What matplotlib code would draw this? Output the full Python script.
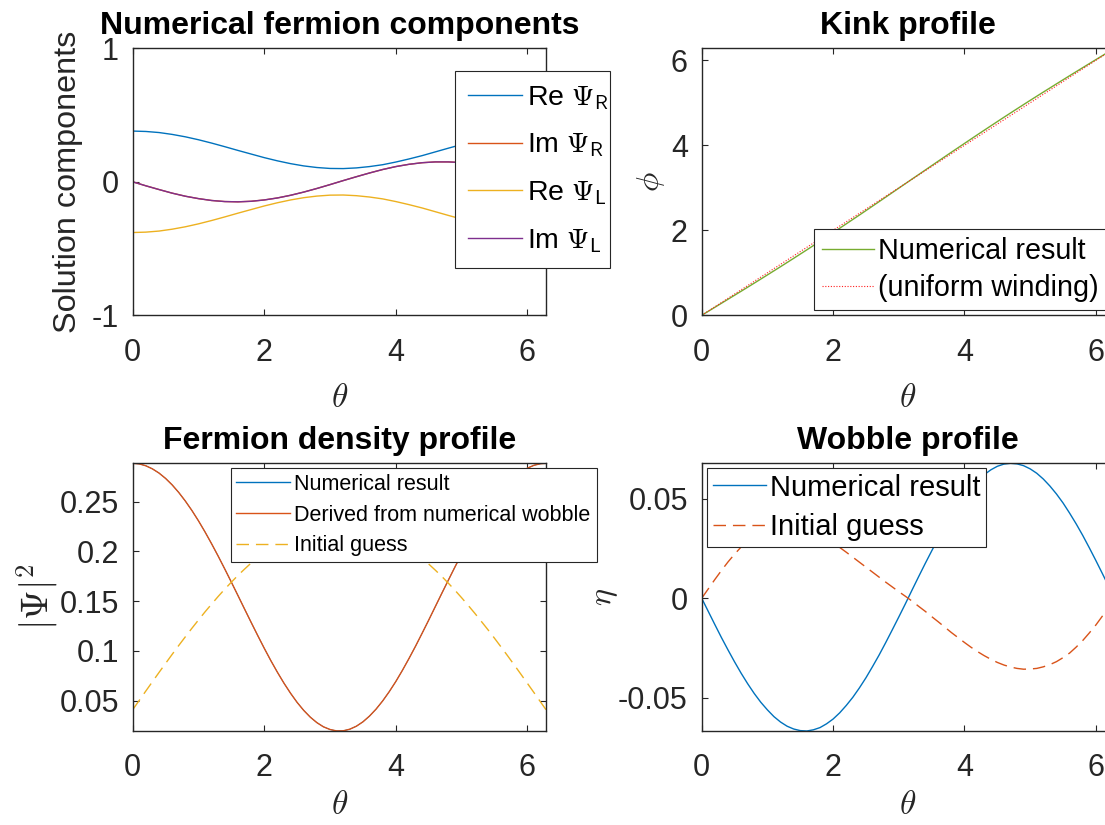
import matplotlib
matplotlib.use("Agg")
import matplotlib.pyplot as plt

plt.rcParams["font.family"] = ["Liberation Sans", "DejaVu Sans"]
plt.rcParams["mathtext.fontset"] = "cm"
plt.rcParams["axes.unicode_minus"] = False

# ---- data ----
# coarse grid for the gently varying curves (components, kink)
THETA = [0.0, 0.2, 0.4, 0.6, 0.8, 1.0, 1.2, 1.4, 1.6, 1.8, 2.0, 2.2, 2.4, 2.6, 2.8, 3.0,
         3.2, 3.4, 3.6, 3.8, 4.0, 4.2, 4.4, 4.6, 4.8, 5.0, 5.2, 5.4, 5.6, 5.8, 6.0, 6.2, 6.283]

RE_PSI_R = [0.380, 0.377, 0.369, 0.355, 0.337, 0.315, 0.290, 0.263, 0.235, 0.208, 0.181,
            0.157, 0.136, 0.119, 0.107, 0.100, 0.099, 0.104, 0.114, 0.128, 0.148, 0.171,
            0.196, 0.224, 0.252, 0.279, 0.305, 0.329, 0.348, 0.364, 0.374, 0.379, 0.380]
IM_PSI_R = [0.0, -0.030, -0.058, -0.085, -0.108, -0.126, -0.140, -0.148, -0.150, -0.146,
            -0.136, -0.121, -0.101, -0.077, -0.050, -0.021, 0.009, 0.038, 0.066, 0.092,
            0.114, 0.131, 0.143, 0.149, 0.149, 0.144, 0.133, 0.116, 0.095, 0.070, 0.042,
            0.013, 0.0]
RE_PSI_L = [-0.380, -0.377, -0.369, -0.355, -0.337, -0.315, -0.290, -0.263, -0.235, -0.208,
            -0.181, -0.157, -0.136, -0.119, -0.107, -0.100, -0.099, -0.104, -0.114, -0.128,
            -0.148, -0.171, -0.196, -0.224, -0.252, -0.279, -0.305, -0.329, -0.348, -0.364,
            -0.374, -0.379, -0.380]
IM_PSI_L = [0.0, -0.030, -0.058, -0.085, -0.108, -0.126, -0.140, -0.148, -0.150, -0.146,
            -0.136, -0.121, -0.101, -0.077, -0.050, -0.021, 0.009, 0.038, 0.066, 0.092,
            0.114, 0.131, 0.143, 0.149, 0.149, 0.144, 0.133, 0.116, 0.095, 0.070, 0.042,
            0.013, 0.0]

KINK_NUM = [0.0, 0.188, 0.377, 0.566, 0.757, 0.950, 1.144, 1.341, 1.540, 1.742, 1.945,
            2.152, 2.359, 2.569, 2.780, 2.992, 3.204, 3.415, 3.627, 3.837, 4.045, 4.252,
            4.457, 4.660, 4.860, 5.058, 5.253, 5.446, 5.638, 5.828, 6.017, 6.205, 6.283]
KINK_UNIFORM = [0.0, 0.2, 0.4, 0.6, 0.8, 1.0, 1.2, 1.4, 1.6, 1.8, 2.0, 2.2, 2.4, 2.6, 2.8,
                3.0, 3.2, 3.4, 3.6, 3.8, 4.0, 4.2, 4.4, 4.6, 4.8, 5.0, 5.2, 5.4, 5.6, 5.8,
                6.0, 6.2, 6.283]

# finer grid for the density and wobble curves
THETA_FINE = [0.0, 0.1, 0.2, 0.3, 0.4, 0.5, 0.6, 0.7, 0.8, 0.9, 1.0, 1.1, 1.2, 1.3, 1.4,
              1.5, 1.6, 1.7, 1.8, 1.9, 2.0, 2.1, 2.2, 2.3, 2.4, 2.5, 2.6, 2.7, 2.8, 2.9,
              3.0, 3.1, 3.2, 3.3, 3.4, 3.5, 3.6, 3.7, 3.8, 3.9, 4.0, 4.1, 4.2, 4.3, 4.4,
              4.5, 4.6, 4.7, 4.8, 4.9, 5.0, 5.1, 5.2, 5.3, 5.4, 5.5, 5.6, 5.7, 5.8, 5.9,
              6.0, 6.1, 6.2, 6.283]

DENSITY_NUM = [0.2885, 0.2879, 0.2860, 0.2829, 0.2787, 0.2733, 0.2668, 0.2592, 0.2506,
               0.2411, 0.2307, 0.2195, 0.2076, 0.1952, 0.1823, 0.1691, 0.1557, 0.1422,
               0.1288, 0.1156, 0.1027, 0.0903, 0.0786, 0.0676, 0.0575, 0.0483, 0.0403,
               0.0335, 0.0280, 0.0238, 0.0211, 0.0197, 0.0198, 0.0214, 0.0244, 0.0288,
               0.0346, 0.0416, 0.0498, 0.0591, 0.0693, 0.0805, 0.0924, 0.1048, 0.1178,
               0.1310, 0.1445, 0.1580, 0.1713, 0.1845, 0.1973, 0.2097, 0.2214, 0.2324,
               0.2427, 0.2521, 0.2606, 0.2680, 0.2743, 0.2795, 0.2836, 0.2865, 0.2881, 0.2885]
DENSITY_FROM_WOBBLE = [0.2885, 0.2879, 0.2860, 0.2829, 0.2787, 0.2733, 0.2668, 0.2592,
                       0.2506, 0.2411, 0.2307, 0.2195, 0.2076, 0.1952, 0.1823, 0.1691,
                       0.1557, 0.1422, 0.1288, 0.1156, 0.1027, 0.0903, 0.0786, 0.0676,
                       0.0575, 0.0483, 0.0403, 0.0335, 0.0280, 0.0238, 0.0211, 0.0197,
                       0.0198, 0.0214, 0.0244, 0.0288, 0.0346, 0.0416, 0.0498, 0.0591,
                       0.0693, 0.0805, 0.0924, 0.1048, 0.1178, 0.1310, 0.1445, 0.1580,
                       0.1713, 0.1845, 0.1973, 0.2097, 0.2214, 0.2324, 0.2427, 0.2521,
                       0.2606, 0.2680, 0.2743, 0.2795, 0.2836, 0.2865, 0.2881, 0.2885]
DENSITY_INIT = [0.0410, 0.0504, 0.0598, 0.0691, 0.0784, 0.0875, 0.0966, 0.1055, 0.1142,
                0.1228, 0.1311, 0.1393, 0.1471, 0.1548, 0.1621, 0.1691, 0.1759, 0.1822,
                0.1883, 0.1939, 0.1992, 0.2041, 0.2085, 0.2126, 0.2162, 0.2194, 0.2222,
                0.2244, 0.2263, 0.2276, 0.2285, 0.2290, 0.2289, 0.2284, 0.2274, 0.2260,
                0.2241, 0.2217, 0.2189, 0.2157, 0.2119, 0.2078, 0.2033, 0.1983, 0.1930,
                0.1873, 0.1812, 0.1748, 0.1680, 0.1609, 0.1535, 0.1458, 0.1379, 0.1297,
                0.1214, 0.1128, 0.1040, 0.0951, 0.0860, 0.0768, 0.0675, 0.0582, 0.0488, 0.0410]

WOBBLE_NUM = [0.0, -0.0066, -0.0132, -0.0197, -0.0259, -0.0319, -0.0376, -0.0429, -0.0478,
              -0.0522, -0.0560, -0.0594, -0.0621, -0.0642, -0.0656, -0.0664, -0.0666,
              -0.0660, -0.0649, -0.0630, -0.0606, -0.0575, -0.0538, -0.0497, -0.0450,
              -0.0399, -0.0343, -0.0285, -0.0223, -0.0159, -0.0094, -0.0028, 0.0040,
              0.0107, 0.0173, 0.0237, 0.0300, 0.0359, 0.0414, 0.0466, 0.0512, 0.0554,
              0.0590, 0.0620, 0.0644, 0.0662, 0.0673, 0.0677, 0.0674, 0.0665, 0.0649,
              0.0627, 0.0598, 0.0563, 0.0523, 0.0478, 0.0427, 0.0373, 0.0315, 0.0253,
              0.0189, 0.0123, 0.0056, 0.0]
WOBBLE_INIT = [0.0, 0.0047, 0.0094, 0.0139, 0.0182, 0.0221, 0.0257, 0.0288, 0.0315, 0.0337,
               0.0354, 0.0366, 0.0372, 0.0374, 0.0371, 0.0364, 0.0352, 0.0338, 0.0320,
               0.0300, 0.0278, 0.0255, 0.0231, 0.0206, 0.0181, 0.0156, 0.0131, 0.0106,
               0.0081, 0.0057, 0.0033, 0.0010, -0.0014, -0.0040, -0.0065, -0.0092, -0.0118,
               -0.0145, -0.0172, -0.0197, -0.0222, -0.0246, -0.0268, -0.0288, -0.0306,
               -0.0322, -0.0335, -0.0345, -0.0352, -0.0356, -0.0355, -0.0352, -0.0344,
               -0.0333, -0.0318, -0.0298, -0.0275, -0.0245, -0.0212, -0.0174, -0.0134,
               -0.0089, -0.0043, 0.0]

X_TICKS = [0, 2, 4, 6]
COMP_TICKS = [-1, 0, 1]
KINK_TICKS = [0, 2, 4, 6]
DENSITY_TICKS = [0.05, 0.1, 0.15, 0.2, 0.25]
DENSITY_TICK_LABELS = ["0.05", "0.1", "0.15", "0.2", "0.25"]
WOBBLE_TICKS = [-0.05, 0, 0.05]
WOBBLE_TICK_LABELS = ["-0.05", "0", "0.05"]

# MATLAB default line colours
BLUE, ORANGE, YELLOW, PURPLE, GREEN = "#0072BD", "#D95319", "#EDB120", "#7E2F8E", "#77AC30"
DARK = "#262626"
TWO_PI = 6.2832

W, H = 1105, 825
fig = plt.figure(figsize=(W / 100, H / 100), dpi=100)


def panel(x0, y0, x1, y1):
    # axes placed in pixel coordinates (top-left origin)
    ax = fig.add_axes([x0 / W, 1 - y1 / H, (x1 - x0) / W, (y1 - y0) / H])
    ax.px = (x0, y0, x1, y1)
    return ax


def style(ax, title, ylabel, ylab_x, xlab_top, ylab_size=23.3):
    x0, y0, x1, y1 = ax.px
    ax.set_title(title, fontsize=23, fontweight="bold", pad=10)
    ax.set_xlabel(r"$\theta$", fontsize=24, color=DARK)
    ax.set_ylabel(ylabel, fontsize=ylab_size, color=DARK, va="center")
    # label anchors in pixels: centre of the y label, top of the x label
    ax.yaxis.set_label_coords((ylab_x - x0) / (x1 - x0), 0.5)
    ax.xaxis.set_label_coords(0.5, (y1 - xlab_top) / (y1 - y0))
    ax.set_xlim(0, TWO_PI)
    ax.set_xticks(X_TICKS)
    ax.tick_params(direction="in", top=True, right=True, length=4, width=0.8,
                   labelsize=22, colors=DARK)
    ax.tick_params(axis="x", pad=16)
    ax.tick_params(axis="y", pad=10)
    for sp in ax.spines.values():
        sp.set_color(DARK)
        sp.set_linewidth(1.0)


def legend(ax, x0, y0, x1, size, hl, spacing, bpad, tpad=0.17):
    leg = ax.legend(loc="upper left", bbox_to_anchor=(x0 / W, 1 - y0 / H, (x1 - x0) / W, 0),
                    bbox_transform=fig.transFigure, mode="expand", borderaxespad=0,
                    fontsize=size, fancybox=False, framealpha=1, edgecolor=DARK,
                    handlelength=hl, handletextpad=tpad, borderpad=bpad,
                    labelspacing=spacing)
    leg.get_frame().set_linewidth(0.8)
    return leg


# 1. fermion components
ax1 = panel(132.7, 48.3, 546.0, 315.3)
ax1.plot(THETA, RE_PSI_R, color=BLUE, lw=1.0, label=r"Re $\Psi_\mathsf{R}$")
ax1.plot(THETA, IM_PSI_R, color=ORANGE, lw=1.0, label=r"Im $\Psi_\mathsf{R}$")
ax1.plot(THETA, RE_PSI_L, color=YELLOW, lw=1.0, label=r"Re $\Psi_\mathsf{L}$")
ax1.plot(THETA, IM_PSI_L, color=PURPLE, lw=1.0, label=r"Im $\Psi_\mathsf{L}$")
style(ax1, "Numerical fermion components", "Solution components", 68, 383)
ax1.set_ylim(-1, 1)
ax1.set_yticks(COMP_TICKS)
legend(ax1, 455, 71, 610, 20.5, 1.9, 0.7, 0.45)

# 2. kink
ax2 = panel(701.7, 48.3, 1114.5, 315.3)
ax2.plot(THETA, KINK_NUM, color=GREEN, lw=1.0, label="Numerical result")
ax2.plot(THETA, KINK_UNIFORM, color="#FF2020", lw=0.8, linestyle=(0, (1, 1.5)),
         label="(uniform winding)")
style(ax2, "Kink profile", r"$\phi$", 651, 383)
ax2.set_ylim(0, TWO_PI)
ax2.set_yticks(KINK_TICKS)
legend(ax2, 814.3, 229.3, 1112, 20.7, 1.82, 0.33, 0.26, 0.15)

# 3. fermion density (the two numerical curves coincide)
ax3 = panel(132.7, 463.3, 546.0, 731.0)
ax3.plot(THETA_FINE, DENSITY_NUM, color=BLUE, lw=0.6, label="Numerical result")
ax3.plot(THETA_FINE, DENSITY_FROM_WOBBLE, color=ORANGE, lw=1.0,
         label="Derived from numerical wobble")
ax3.plot(THETA_FINE, DENSITY_INIT, color=YELLOW, lw=1.0, linestyle=(0, (9, 5)),
         label="Initial guess")
style(ax3, "Fermion density profile", r"$|\Psi|^\mathsf{2}$", 38, 790, ylab_size=27.5)
ax3.set_ylim(0.0196, 0.2885)
ax3.set_yticks(DENSITY_TICKS)
ax3.set_yticklabels(DENSITY_TICK_LABELS)
leg3 = legend(ax3, 230.7, 468.3, 597.3, 15.5, 2.51, 0.46, 0.25, 0.19)
leg3.get_lines()[0].set_linewidth(1.0)

# 4. wobble
ax4 = panel(701.7, 463.3, 1114.5, 731.0)
ax4.plot(THETA_FINE, WOBBLE_NUM, color=BLUE, lw=1.0, label="Numerical result")
ax4.plot(THETA_FINE, WOBBLE_INIT, color=ORANGE, lw=1.0, linestyle=(0, (9, 5)),
         label="Initial guess")
style(ax4, "Wobble profile", r"$\eta$", 605, 790)
ax4.set_ylim(-0.0666, 0.0677)
ax4.set_yticks(WOBBLE_TICKS)
ax4.set_yticklabels(WOBBLE_TICK_LABELS)
legend(ax4, 706.7, 467.7, 985.7, 21, 1.82, 0.39, 0.2, 0.15)

fig.savefig("out.png", dpi=100)
